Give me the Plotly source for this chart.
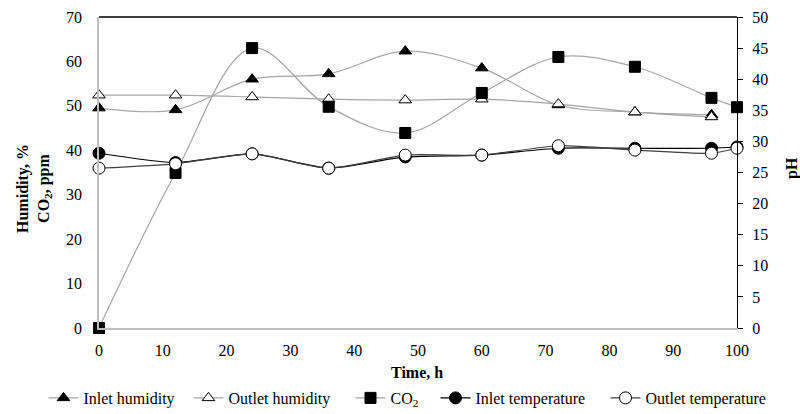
import plotly.graph_objects as go

time_h = [0, 12, 24, 36, 48, 60, 72, 84, 96, 100]
time_hum = [0, 12, 24, 36, 48, 60, 72, 84, 96]

inlet_humidity = [49.5, 49.1, 56.0, 57.2, 62.3, 58.5, 50.2, 48.6, 48.0]
outlet_humidity = [52.4, 52.4, 52.0, 51.5, 51.3, 51.5, 50.4, 48.6, 47.5]
co2 = [0, 34.9, 63.0, 49.8, 43.9, 52.9, 61.0, 58.8, 51.8, 49.7]
# temperatures read on the right-hand (secondary) axis
inlet_temperature = [28.1, 26.6, 28.0, 25.7, 27.5, 27.8, 28.9, 28.9, 28.9, 29.1]
outlet_temperature = [25.7, 26.4, 28.0, 25.7, 27.8, 27.8, 29.3, 28.6, 28.1, 28.9]

FONT = "Liberation Serif, Times New Roman, serif"
GRAY = "#a6a6a6"

fig = go.Figure()

fig.add_trace(go.Scatter(
    x=time_hum, y=inlet_humidity, name="Inlet humidity", mode="lines+markers",
    line=dict(color=GRAY, width=1.2, shape="spline", smoothing=1),
    marker=dict(symbol="triangle-up", size=11, color="black", line=dict(color="black", width=1)),
    cliponaxis=False, legendwidth=100))
fig.add_trace(go.Scatter(
    x=time_hum, y=outlet_humidity, name="Outlet humidity", mode="lines+markers",
    line=dict(color=GRAY, width=1.2, shape="spline", smoothing=1),
    marker=dict(symbol="triangle-up", size=11, color="white", line=dict(color="black", width=1)),
    cliponaxis=False, legendwidth=117))
fig.add_trace(go.Scatter(
    x=time_h, y=co2, name="CO<sub>2</sub>", mode="lines+markers",
    line=dict(color=GRAY, width=1.2, shape="spline", smoothing=1),
    marker=dict(symbol="square", size=11, color="black", line=dict(color="black", width=1)),
    cliponaxis=False, legendwidth=40))
fig.add_trace(go.Scatter(
    x=time_h, y=inlet_temperature, name="Inlet temperature", mode="lines+markers", yaxis="y2",
    line=dict(color="black", width=1.2, shape="spline", smoothing=0.6),
    marker=dict(symbol="circle", size=12, color="black", line=dict(color="black", width=1)),
    cliponaxis=False, legendwidth=125))
fig.add_trace(go.Scatter(
    x=time_h, y=outlet_temperature, name="Outlet temperature", mode="lines+markers", yaxis="y2",
    line=dict(color="#404040", width=1.2, shape="spline", smoothing=0.6),
    marker=dict(symbol="circle", size=12, color="white", line=dict(color="black", width=1)),
    cliponaxis=False, legendwidth=126))

fig.update_layout(
    width=800, height=414,
    margin=dict(l=99, r=63, t=17, b=86, autoexpand=False),
    paper_bgcolor="white", plot_bgcolor="white",
    font=dict(family=FONT, size=16, color="black"),
    showlegend=True,
    legend=dict(orientation="h", xref="paper", yref="paper",
                x=-0.087, xanchor="left", y=-0.225, yanchor="middle",
                font=dict(family=FONT, size=16, color="black"),
                itemwidth=30, tracegroupgap=0, bgcolor="rgba(0,0,0,0)",
                borderwidth=0),
    xaxis=dict(range=[0, 100], tick0=0, dtick=10, showgrid=False, zeroline=False,
               showline=True, linecolor="#bfbfbf", linewidth=1.5, ticks="",
               ticklabelstandoff=7, tickfont=dict(family=FONT, size=16)),
    yaxis=dict(range=[0, 70], tick0=0, dtick=10, showgrid=False, zeroline=False,
               showline=True, linecolor="#bfbfbf", linewidth=1.5, ticks="",
               ticklabelstandoff=12, tickfont=dict(family=FONT, size=16)),
    yaxis2=dict(range=[0, 50], tick0=0, dtick=5, overlaying="y", side="right",
                showgrid=False, zeroline=False, showline=True, linecolor="black",
                linewidth=1.2, ticks="outside", ticklen=5, tickcolor="black",
                ticklabelstandoff=6, tickfont=dict(family=FONT, size=16)),
    shapes=[dict(type="line", xref="paper", yref="paper", x0=0, x1=1, y0=1, y1=1,
                 line=dict(color="black", width=1.5))],
    annotations=[
        dict(text="<b>Time, h</b>", xref="paper", yref="paper", x=0.4985, y=-0.1415,
             xanchor="center", yanchor="middle", showarrow=False,
             font=dict(family=FONT, size=16)),
        dict(text="<b>Humidity, %<br>CO<sub>2</sub>, ppm</b>", xref="paper", yref="paper",
             x=-0.102, y=0.45, textangle=-90, xanchor="center", yanchor="middle",
             showarrow=False, font=dict(family=FONT, size=16)),
        dict(text="<b>pH</b>", xref="paper", yref="paper", x=1.086, y=0.514,
             textangle=-90, xanchor="center", yanchor="middle", showarrow=False,
             font=dict(family=FONT, size=16)),
    ],
)

fig.write_html("out.html")
